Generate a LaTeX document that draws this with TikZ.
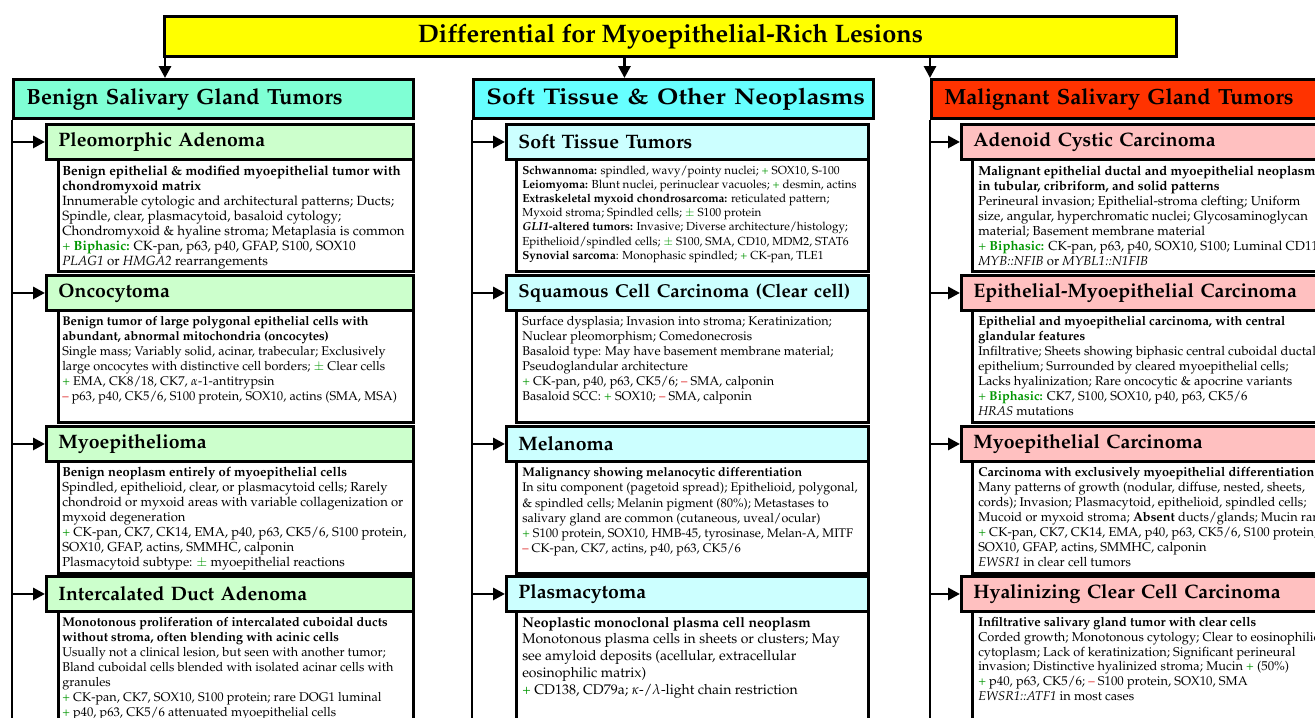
\documentclass[tikz,border=0pt]{standalone}
\usepackage[T1]{fontenc}
\usepackage{mathpazo}
\usepackage{tikz}
\usetikzlibrary{arrows.meta,positioning}

\definecolor{titleyellow}{RGB}{255,255,0}
\definecolor{benignhead}{RGB}{127,255,212}
\definecolor{benignsub}{RGB}{204,255,204}
\definecolor{softhead}{RGB}{102,255,255}
\definecolor{softsub}{RGB}{204,255,255}
\definecolor{malignhead}{RGB}{255,51,0}
\definecolor{malignsub}{RGB}{255,192,192}
\definecolor{plusgreen}{RGB}{0,150,0}
\definecolor{minusred}{RGB}{220,20,20}

\newcommand{\plussign}{\textcolor{plusgreen}{+}}
\newcommand{\minussign}{\textcolor{minusred}{\textendash}}
\newcommand{\pmsign}{\textcolor{plusgreen}{$\pm$}}
\newcommand{\biphasic}{\textcolor{plusgreen}{+ \textbf{Biphasic:}}}

\tikzset{
  frame/.style={draw, line width=2.2pt, inner sep=0pt, anchor=north west},
  topbox/.style={frame, fill=#1, minimum height=29.25pt, text width=280.5pt,
    inner xsep=9.75pt, align=left, font=\fontsize{16.5}{19}\selectfont\bfseries},
  headbox/.style 2 args={frame, fill=#1, minimum height=26.25pt, text width=#2,
    inner xsep=9pt, align=left, font=\fontsize{14.6}{18}\selectfont\bfseries},
  infobox/.style 2 args={frame, fill=white, minimum width=#1, minimum height=#2},
  infotext/.style 2 args={anchor=north west, inner sep=0pt, align=left,
    font=\fontsize{#1}{#2}\selectfont},
  link/.style={line width=2.2pt, -{Triangle[length=9pt,width=9pt]}},
  spine/.style={line width=2.2pt}
}

\begin{document}
\lineskiplimit=-4pt\relax
\begin{tikzpicture}[x=0.75pt, y=-0.75pt]
  \useasboundingbox (0,0) rectangle (1315,718);
  \clip (0,0) rectangle (1315,718);
  \coordinate (bottom) at (0,740);

  % title and the three groups
  \node[frame, fill=titleyellow, minimum width=759pt, minimum height=30pt,
    font=\fontsize{19}{22}\selectfont\bfseries] (title) at (163,15)
    {Differential for Myoepithelial-Rich Lesions};

  \node[topbox=benignhead] (benign) at (12,78) {Benign Salivary Gland Tumors};
  \node[topbox=softhead, font=\fontsize{17}{20}\selectfont\bfseries] (soft) at (472,78)
    {\scalebox{1.13}[1]{Soft Tissue \& Other Neoplasms}};
  \node[topbox=malignhead] (malign) at (930,78) {Malignant Salivary Gland Tumors};

  \coordinate (tA) at ([xshift=1.5pt]title.south west);
  \coordinate (tB) at ([xshift=-34.5pt]title.south);
  \draw[link] (tA) -- (tA |- benign.north);
  \draw[link] (tB) -- (tB |- soft.north);
  \draw[link] (title.south -| malign.north west) -- (malign.north west);

  \draw[spine] (benign.south west) -- (benign.south west |- bottom);
  \draw[spine] (soft.south west) -- (soft.south west |- bottom);
  \draw[spine] (malign.south west) -- (malign.south west |- bottom);

  % benign salivary gland tumors
  \node[infobox={266.25pt}{84pt}] (pa-d) at (57,158) {};
  \node[headbox={benignsub}{257.25pt}] (pa) at (45,123) {Pleomorphic Adenoma};
  \node[infotext={10}{11.25}] (pa-t) at ([xshift=3.75pt,yshift=-5.5pt]pa-d.north west) {%
    \textbf{Benign epithelial \& modified myoepithelial tumor with}\\
    \textbf{chondromyxoid matrix}\\
    Innumerable cytologic and architectural patterns; Ducts;\\
    Spindle, clear, plasmacytoid, basaloid cytology;\\
    Chondromyxoid \& hyaline stroma; Metaplasia is common\\
    \biphasic{} CK-pan, p63, p40, GFAP, S100, SOX10\\
    \textit{PLAG1} or \textit{HMGA2} rearrangements};
  \draw[link] (benign.south west |- pa.west) -- (pa.west);

  \node[infobox={266.25pt}{84pt}] (onc-d) at (57,309) {};
  \node[headbox={benignsub}{257.25pt}] (onc) at (45,274) {Oncocytoma};
  \node[infotext={9.5}{11.25}] (onc-t) at ([xshift=3.75pt,yshift=-5.5pt]onc-d.north west) {%
    \textbf{Benign tumor of large polygonal epithelial cells with}\\
    \textbf{abundant, abnormal mitochondria (oncocytes)}\\
    Single mass; Variably solid, acinar, trabecular; Exclusively\\
    large oncocytes with distinctive cell borders; \pmsign{} Clear cells\\
    \plussign{} EMA, CK8/18, CK7, $\alpha$-1-antitrypsin\\
    \minussign{} p63, p40, CK5/6, S100 protein, SOX10, actins (SMA, MSA)};
  \draw[link] (benign.south west |- onc.west) -- (onc.west);

  \node[infobox={266.25pt}{84pt}] (mye-d) at (57,460) {};
  \node[headbox={benignsub}{257.25pt}] (mye) at (45,425) {Myoepithelioma};
  \node[infotext={9.75}{11.25}] (mye-t) at ([xshift=3.75pt,yshift=-5.5pt]mye-d.north west) {%
    \textbf{Benign neoplasm entirely of myoepithelial cells}\\
    Spindled, epithelioid, clear, or plasmacytoid cells; Rarely\\
    chondroid or myxoid areas with variable collagenization or\\
    myxoid degeneration\\
    \plussign{} CK-pan, CK7, CK14, EMA, p40, p63, CK5/6, S100 protein,\\
    SOX10, GFAP, actins, SMMHC, calponin\\
    Plasmacytoid subtype: \pmsign{} myoepithelial reactions};
  \draw[link] (benign.south west |- mye.west) -- (mye.west);

  \node[infobox={266.25pt}{100pt}] (ida-d) at (57,610) {};
  \node[headbox={benignsub}{257.25pt}] (ida) at (45,575) {Intercalated Duct Adenoma};
  \node[infotext={9.5}{11.25}] (ida-t) at ([xshift=3.75pt,yshift=-5.5pt]ida-d.north west) {%
    \textbf{Monotonous proliferation of intercalated cuboidal ducts}\\
    \textbf{without stroma, often blending with acinic cells}\\
    Usually not a clinical lesion, but seen with another tumor;\\
    Bland cuboidal cells blended with isolated acinar cells with\\
    granules\\
    \plussign{} CK-pan, CK7, SOX10, S100 protein; rare DOG1 luminal\\
    \plussign{} p40, p63, CK5/6 attenuated myoepithelial cells};
  \draw[link] (benign.south west |- ida.west) -- (ida.west);

  % soft tissue and other neoplasms
  \node[infobox={264pt}{84pt}] (stt-d) at (515,158) {};
  \node[headbox={softsub}{253.5pt}] (stt) at (505,123) {Soft Tissue Tumors};
  \node[infotext={8.75}{10.65}] (stt-t) at ([xshift=5.25pt,yshift=-5.5pt]stt-d.north west) {%
    \textbf{Schwannoma:} spindled, wavy/pointy nuclei; \plussign{} SOX10, S-100\\
    \textbf{Leiomyoma:} Blunt nuclei, perinuclear vacuoles; \plussign{} desmin, actins\\
    \textbf{Extraskeletal myxoid chondrosarcoma:} reticulated pattern;\\
    Myxoid stroma; Spindled cells; \pmsign{} S100 protein\\
    \textbf{\textit{GLI1}-altered tumors:} Invasive; Diverse architecture/histology;\\
    Epithelioid/spindled cells; \pmsign{} S100, SMA, CD10, MDM2, STAT6\\
    \textbf{Synovial sarcoma}: Monophasic spindled; \plussign{} CK-pan, TLE1};
  \draw[link] (soft.south west |- stt.west) -- (stt.west);

  \node[infobox={264pt}{84pt}] (scc-d) at (515,309) {};
  \node[headbox={softsub}{253.5pt}] (scc) at (505,274)
    {\fontsize{14}{18}\selectfont\mbox{Squamous Cell Carcinoma (Clear cell)}};
  \node[infotext={9.5}{11.25}] (scc-t) at ([xshift=5.25pt,yshift=-5.5pt]scc-d.north west) {%
    Surface dysplasia; Invasion into stroma; Keratinization;\\
    Nuclear pleomorphism; Comedonecrosis\\
    Basaloid type: May have basement membrane material;\\
    Pseudoglandular architecture\\
    \plussign{} CK-pan, p40, p63, CK5/6; \minussign{} SMA, calponin\\
    Basaloid SCC: \plussign{} SOX10; \minussign{} SMA, calponin};
  \draw[link] (soft.south west |- scc.west) -- (scc.west);

  \node[infobox={264pt}{84pt}] (mel-d) at (515,460) {};
  \node[headbox={softsub}{253.5pt}] (mel) at (505,425) {Melanoma};
  \node[infotext={9.4}{11.4}] (mel-t) at ([xshift=5.25pt,yshift=-5.5pt]mel-d.north west) {%
    \textbf{Malignancy showing melanocytic differentiation}\\
    In situ component (pagetoid spread); Epithelioid, polygonal,\\
    \& spindled cells; Melanin pigment (80\%); Metastases to\\
    salivary gland are common (cutaneous, uveal/ocular)\\
    \plussign{} S100 protein, SOX10, HMB-45, tyrosinase, Melan-A, MITF\\
    \minussign{} CK-pan, CK7, actins, p40, p63, CK5/6};
  \draw[link] (soft.south west |- mel.west) -- (mel.west);

  \node[infobox={264pt}{100pt}] (pla-d) at (515,610) {};
  \node[headbox={softsub}{253.5pt}] (pla) at (505,575) {Plasmacytoma};
  \node[infotext={10.5}{12.6}] (pla-t) at ([xshift=5.25pt,yshift=-5pt]pla-d.north west) {%
    \textbf{Neoplastic monoclonal plasma cell neoplasm}\\
    Monotonous plasma cells in sheets or clusters; May\\
    see amyloid deposits (acellular, extracellular\\
    eosinophilic matrix)\\
    \plussign{} CD138, CD79a; $\kappa$-/$\lambda$-light chain restriction};
  \draw[link] (soft.south west |- pla.west) -- (pla.west);

  % malignant salivary gland tumors
  \node[infobox={270pt}{84pt}] (acc-d) at (971,158) {};
  \node[headbox={malignsub}{259.5pt}] (acc) at (960,123) {Adenoid Cystic Carcinoma};
  \node[infotext={9.8}{11.25}] (acc-t) at ([xshift=5.25pt,yshift=-5.5pt]acc-d.north west) {%
    \textbf{Malignant epithelial ductal and myoepithelial neoplasm}\\
    \textbf{in tubular, cribriform, and solid patterns}\\
    Perineural invasion; Epithelial-stroma clefting; Uniform\\
    size, angular, hyperchromatic nuclei; Glycosaminoglycan\\
    material; Basement membrane material\\
    \biphasic{} CK-pan, p63, p40, SOX10, S100; Luminal CD117\\
    \textit{MYB::NFIB} or \textit{MYBL1::N1FIB}};
  \draw[link] (malign.south west |- acc.west) -- (acc.west);

  \node[infobox={270pt}{84pt}] (emc-d) at (971,309) {};
  \node[headbox={malignsub}{259.5pt}] (emc) at (960,274) {Epithelial-Myoepithelial Carcinoma};
  \node[infotext={9.6}{11.25}] (emc-t) at ([xshift=5.25pt,yshift=-5.5pt]emc-d.north west) {%
    \textbf{Epithelial and myoepithelial carcinoma, with central}\\
    \textbf{glandular features}\\
    Infiltrative; Sheets showing biphasic central cuboidal ductal\\
    epithelium; Surrounded by cleared myoepithelial cells;\\
    Lacks hyalinization; Rare oncocytic \& apocrine variants\\
    \biphasic{} CK7, S100, SOX10, p40, p63, CK5/6\\
    \textit{HRAS} mutations};
  \draw[link] (malign.south west |- emc.west) -- (emc.west);

  \node[infobox={270pt}{84pt}] (mec-d) at (971,460) {};
  \node[headbox={malignsub}{259.5pt}] (mec) at (960,425) {Myoepithelial Carcinoma};
  \node[infotext={9.6}{11.25}] (mec-t) at ([xshift=5.25pt,yshift=-5.5pt]mec-d.north west) {%
    \textbf{Carcinoma with exclusively myoepithelial differentiation}\\
    Many patterns of growth (nodular, diffuse, nested, sheets,\\
    cords); Invasion; Plasmacytoid, epithelioid, spindled cells;\\
    Mucoid or myxoid stroma; \textbf{Absent} ducts/glands; Mucin rare\\
    \plussign{} CK-pan, CK7, CK14, EMA, p40, p63, CK5/6, S100 protein,\\
    SOX10, GFAP, actins, SMMHC, calponin\\
    \textit{EWSR1} in clear cell tumors};
  \draw[link] (malign.south west |- mec.west) -- (mec.west);

  \node[infobox={270pt}{100pt}] (hcc-d) at (971,610) {};
  \node[headbox={malignsub}{259.5pt}] (hcc) at (960,575) {Hyalinizing Clear Cell Carcinoma};
  \node[infotext={9.6}{11}] (hcc-t) at ([xshift=5.25pt,yshift=-5.5pt]hcc-d.north west) {%
    \textbf{Infiltrative salivary gland tumor with clear cells}\\
    Corded growth; Monotonous cytology; Clear to eosinophilic\\
    cytoplasm; Lack of keratinization; Significant perineural\\
    invasion; Distinctive hyalinized stroma; Mucin \plussign{} (50\%)\\
    \plussign{} p40, p63, CK5/6; \minussign{} S100 protein, SOX10, SMA\\
    \textit{EWSR1::ATF1} in most cases};
  \draw[link] (malign.south west |- hcc.west) -- (hcc.west);
\end{tikzpicture}
\end{document}
